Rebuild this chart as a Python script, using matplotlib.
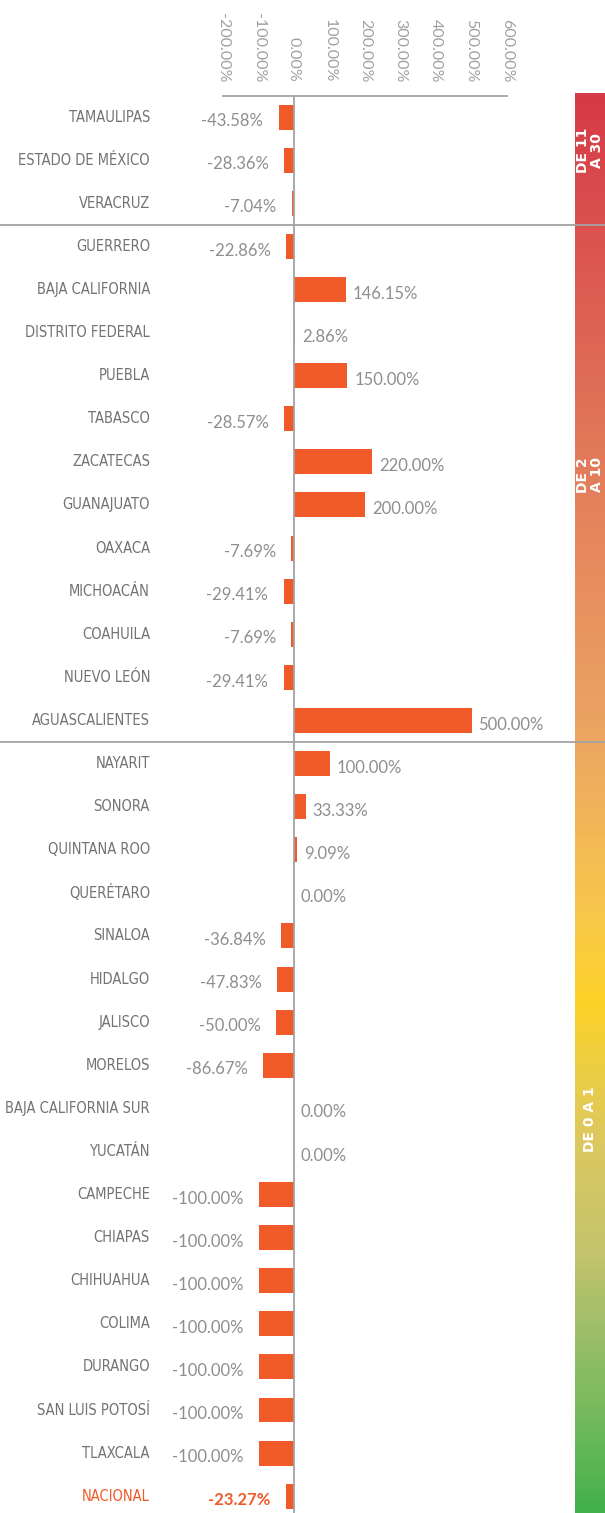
import matplotlib.pyplot as plt
import matplotlib.transforms as mtransforms
from matplotlib.colors import LinearSegmentedColormap
import numpy as np

# data, top to bottom
states = [
    "TAMAULIPAS", "ESTADO DE MÉXICO", "VERACRUZ",
    "GUERRERO", "BAJA CALIFORNIA", "DISTRITO FEDERAL", "PUEBLA", "TABASCO",
    "ZACATECAS", "GUANAJUATO", "OAXACA", "MICHOACÁN", "COAHUILA", "NUEVO LEÓN",
    "AGUASCALIENTES",
    "NAYARIT", "SONORA", "QUINTANA ROO", "QUERÉTARO", "SINALOA", "HIDALGO",
    "JALISCO", "MORELOS", "BAJA CALIFORNIA SUR", "YUCATÁN", "CAMPECHE",
    "CHIAPAS", "CHIHUAHUA", "COLIMA", "DURANGO", "SAN LUIS POTOSÍ", "TLAXCALA",
    "NACIONAL",
]
values = [
    -43.58, -28.36, -7.04,
    -22.86, 146.15, 2.86, 150.00, -28.57,
    220.00, 200.00, -7.69, -29.41, -7.69, -29.41,
    500.00,
    100.00, 33.33, 9.09, 0.00, -36.84, -47.83,
    -50.00, -86.67, 0.00, 0.00, -100.00,
    -100.00, -100.00, -100.00, -100.00, -100.00, -100.00,
    -23.27,
]
group_labels = ["DE 11\nA 30", "DE 2\nA 10", "DE 0 A 1"]
group_sizes = [3, 12, 18]
x_ticks = [-200, -100, 0, 100, 200, 300, 400, 500, 600]

ORANGE = "#f05a28"
GRAY_LINE = "#a3a3a3"
NARROW = ["Liberation Sans Narrow", "DejaVu Sans Condensed", "DejaVu Sans"]
W, H = 605, 1513

fig = plt.figure(figsize=(W / 100, H / 100), dpi=100)

ax = fig.add_axes([223 / W, 0, 284 / W, (H - 96) / H])
n = len(states)
y = np.arange(n)
ax.barh(y, values, height=0.58, color=ORANGE)
ax.set_xlim(-200, 600)
ax.set_ylim(32.39, -0.49)
ax.axvline(0, color=GRAY_LINE, lw=1.3)

for s in ["left", "right", "bottom"]:
    ax.spines[s].set_visible(False)
ax.spines["top"].set_color(GRAY_LINE)
ax.spines["top"].set_linewidth(1.3)
ax.set_yticks([])
ax.xaxis.tick_top()
ax.set_xticks(x_ticks)
ax.set_xticklabels([f"{t:.2f}%" for t in x_ticks], rotation=270,
                   family="Lato", fontsize=11.5, color="#a0a0a0")
ax.tick_params(axis="x", length=0, pad=10)

# value labels and state names
blend = mtransforms.blended_transform_factory(fig.transFigure, ax.transData)
for i, (name, v) in enumerate(zip(states, values)):
    last = name == "NACIONAL"
    col = ORANGE if last else "#8e8e8e"
    if v < 0:
        ax.annotate(f"{v:.2f}%", (v, i), xytext=(-11, -3), textcoords="offset points",
                    ha="right", va="center", family="Lato",
                    fontweight="bold" if last else "normal", fontsize=12, color=col)
    else:
        ax.annotate(f"{v:.2f}%", (v, i), xytext=(5, -3), textcoords="offset points",
                    ha="left", va="center", family="Lato",
                    fontsize=12, color=col)
    ax.text(150 / W, i, name, transform=blend, ha="right", va="center",
            family=NARROW, fontstretch="condensed", fontsize=10.5,
            color=ORANGE if last else "#737373", clip_on=False)

# separators between groups
start = 0
for size in group_sizes[:-1]:
    start += size
    ax.plot([0, 1], [start - 0.5, start - 0.5], transform=blend, color=GRAY_LINE,
            lw=1.3, clip_on=False, zorder=5)

# colour band on the right
cmap = LinearSegmentedColormap.from_list("band", [
    (0.0, "#d63a47"), (0.28, "#e3805c"), (0.46, "#eda762"), (0.58, "#f8c84a"),
    (0.64, "#fcd228"), (0.74, "#dcc860"), (0.82, "#c3c36c"), (0.88, "#98bd68"),
    (0.95, "#68b85a"), (1.0, "#42b04a"),
])
cax = fig.add_axes([575 / W, 0, 30 / W, (H - 93) / H], zorder=-1)
cax.imshow(np.linspace(0, 1, 256).reshape(-1, 1), aspect="auto", cmap=cmap,
           extent=[0, 1, 1, 0])
cax.set_xlim(0, 1)
cax.set_ylim(1, 0)
cax.axis("off")

start = 0
for lab, size in zip(group_labels, group_sizes):
    y0, y1 = start - 0.5, start + size - 0.5
    if start == 0:
        y0 = -0.49 - 3 / 43.1
    if start + size == n:
        y1 = 32.39
    mid = (y0 + y1) / 2 - 0.2
    ax.text(590 / W, mid, lab, transform=blend, ha="center", va="center",
            rotation=90, color="white", fontweight="bold", fontsize=10,
            linespacing=0.95, clip_on=False, zorder=6)
    start += size

fig.savefig("out.png", dpi=100)
